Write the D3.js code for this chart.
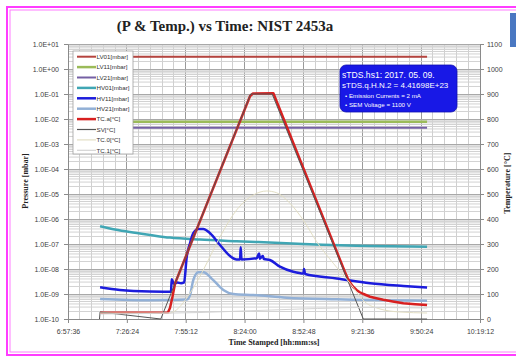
<!DOCTYPE html>
<html>
<head>
<meta charset="utf-8">
<script src="https://cdn.jsdelivr.net/npm/d3@7"></script>
<style>
  body { margin: 0; background: #fff; }
  svg { display: block; }
  .tick text { font-family: "Liberation Sans", Arial, sans-serif; font-size: 7px; fill: #404040; }
  .axisTitle { font-family: "Liberation Serif", "Times New Roman", serif; font-weight: bold; fill: #222; }
</style>
</head>
<body>
<div id="viz"></div>
<script>
// tick labels
const timeTicks = ["6:57:36", "7:26:24", "7:55:12", "8:24:00", "8:52:48", "9:21:36", "9:50:24", "10:19:12"];
const pressureTicks = [1e1, 1e0, 1e-1, 1e-2, 1e-3, 1e-4, 1e-5, 1e-6, 1e-7, 1e-8, 1e-9, 1e-10];
const tempTicks = [0, 100, 200, 300, 400, 500, 600, 700, 800, 900, 1000, 1100];

// pressure series [time, mbar]
const LV01 = [["7:13:18", 3.1], ["9:53:18", 3.1]];
const LV11 = [["7:13:18", 7.8e-3], ["9:53:18", 7.8e-3]];
const LV21 = [["7:13:18", 4.5e-3], ["9:53:18", 4.5e-3]];
const HV01 = [["7:13:18", 5.1e-7], ["7:20:36", 3.8e-7], ["7:27:54", 3.0e-7], ["7:37:42", 2.3e-7],
  ["7:47:30", 1.8e-7], ["8:02:12", 1.5e-7], ["8:20:06", 1.3e-7], ["8:52:42", 1.0e-7],
  ["9:25:24", 8.3e-8], ["9:53:18", 7.8e-8]];
const HV11 = [["7:13:18", 1.85e-9], ["7:23:00", 1.45e-9], ["7:37:42", 1.26e-9], ["7:48:00", 1.24e-9],
  ["7:48:20", 3.9e-9], ["7:49:30", 2.5e-9], ["7:51:00", 2.9e-9], ["7:52:54", 2.7e-9],
  ["7:54:24", 2.9e-9], ["7:55:42", 3.1e-8], ["7:57:18", 1.07e-7], ["7:58:54", 2.7e-7],
  ["8:01:24", 4.0e-7], ["8:03:48", 4.0e-7], ["8:07:06", 2.7e-7], ["8:12:00", 9.1e-8],
  ["8:16:54", 3.3e-8], ["8:20:06", 2.4e-8], ["8:21:48", 2.4e-8], ["8:22:06", 7.4e-8],
  ["8:22:30", 2.4e-8], ["8:29:54", 2.7e-8], ["8:31:06", 4.2e-8], ["8:31:30", 2.6e-8],
  ["8:32:54", 3.3e-8], ["8:33:30", 2.5e-8], ["8:36:24", 2.3e-8], ["8:41:18", 1.24e-8],
  ["8:47:48", 7.8e-9], ["8:52:48", 6.6e-9], ["8:53:06", 1.0e-8], ["8:53:36", 6.3e-9],
  ["9:09:06", 4.2e-9], ["9:25:24", 2.7e-9], ["9:41:42", 2.1e-9], ["9:53:18", 1.82e-9]];
const HV21 = [["7:13:18", 6.3e-10], ["7:37:42", 5.6e-10], ["7:55:42", 6.0e-10], ["7:57:18", 9.1e-10],
  ["7:58:54", 3.6e-9], ["8:01:24", 7.4e-9], ["8:03:48", 7.4e-9], ["8:08:42", 3.6e-9],
  ["8:13:36", 1.45e-9], ["8:18:30", 1.0e-9], ["8:28:18", 9.1e-10], ["8:44:36", 7.1e-10],
  ["9:09:06", 6.1e-10], ["9:53:18", 5.4e-10]];

// temperature series [time, degC]
const TCa = [["7:13:18", 25], ["7:46:30", 26], ["7:47:30", 44], ["7:48:42", 88], ["7:50:00", 143],
  ["8:26:42", 892], ["8:28:06", 902], ["8:38:06", 903], ["9:13:06", 188], ["9:14:18", 166],
  ["9:15:30", 147], ["9:17:00", 130], ["9:18:48", 116], ["9:20:12", 108], ["9:21:54", 101],
  ["9:25:24", 89], ["9:28:30", 83], ["9:31:54", 77], ["9:36:30", 70], ["9:41:42", 63],
  ["9:47:30", 59], ["9:53:18", 56]];
const SV = [["7:13:00", 0], ["7:13:18", 28], ["7:43:00", 0], ["8:27:00", 900], ["8:37:30", 900],
  ["9:22:06", 0], ["9:53:18", 0]];
const TC0 = [["7:13:18", 24], ["7:47:30", 24], ["7:48:30", 26], ["7:57:18", 103], ["8:03:48", 196],
  ["8:12:00", 329], ["8:20:06", 436], ["8:28:18", 496], ["8:34:48", 512], ["8:39:42", 505],
  ["8:46:12", 463], ["8:52:42", 396], ["8:59:18", 309], ["9:07:24", 223], ["9:15:36", 143],
  ["9:22:54", 68], ["9:30:18", 40], ["9:40:00", 28], ["9:53:18", 24]];
const TC1 = [["7:13:18", 20], ["8:02:12", 26], ["8:51:06", 40], ["9:25:24", 46], ["9:53:18", 44]];

const series = [
  { name: "LV01[mbar]", data: LV01, axis: "p", color: "#b5443f", w: 2 },
  { name: "LV11[mbar]", data: LV11, axis: "p", color: "#9bbb59", w: 2.5 },
  { name: "LV21[mbar]", data: LV21, axis: "p", color: "#7560a4", w: 2 },
  { name: "HV01[mbar]", data: HV01, axis: "p", color: "#40a6b4", w: 2.5 },
  { name: "HV11[mbar]", data: HV11, axis: "p", color: "#1c1cdc", w: 2.5 },
  { name: "HV21[mbar]", data: HV21, axis: "p", color: "#92b0d6", w: 2.5 },
  { name: "TC.a[°C]", data: TCa, axis: "t", color: "#d82020", w: 2.5, linear: true },
  { name: "SV[°C]", data: SV, axis: "t", color: "#555555", w: 1, linear: true },
  { name: "TC.0[°C]", data: TC0, axis: "t", color: "#e2dec4", w: 1 },
  { name: "TC.1[°C]", data: TC1, axis: "t", color: "#d4d4d4", w: 1 },
];

const width = 516, height = 356;
const parse = d3.timeParse("%H:%M:%S");

const svg = d3.select("#viz").append("svg")
  .attr("width", width).attr("height", height);

// magenta frame
svg.append("rect").attr("x", 7).attr("y", 7).attr("width", 530).attr("height", 348)
  .attr("fill", "none").attr("stroke", "#ff3cff").attr("stroke-width", 2);
svg.append("rect").attr("x", 10).attr("y", 10).attr("width", 530).attr("height", 342)
  .attr("fill", "none").attr("stroke", "#ff7cff").attr("stroke-width", 1);
// cut-off blue element at top right
svg.append("rect").attr("x", 510).attr("y", 13).attr("width", 10).attr("height", 34)
  .attr("fill", "#4a78c2");

const x = d3.scaleTime()
  .domain([parse(timeTicks[0]), parse(timeTicks[timeTicks.length - 1])])
  .range([68, 480]);
const yP = d3.scaleLog().domain([1e-10, 10]).range([319, 44]);
const yT = d3.scaleLinear().domain([0, 1100]).range([319, 44]);

// grid
const grid = svg.append("g");
const [x0, x1] = x.domain().map(d => +d);
const minorStep = (x1 - x0) / 35;
d3.range(0, 36).forEach(i => {
  const gx = x(new Date(x0 + i * minorStep));
  const major = i % 5 === 0;
  grid.append("line")
    .attr("x1", gx).attr("x2", gx).attr("y1", 44).attr("y2", 319)
    .attr("stroke", major ? "#9a9a9a" : "#cfcfcf").attr("stroke-width", 1)
    .attr("shape-rendering", "crispEdges");
});
pressureTicks.slice(1).forEach(p => {
  d3.range(2, 10).forEach(k => {
    grid.append("line")
      .attr("x1", 68).attr("x2", 480).attr("y1", yP(p * k)).attr("y2", yP(p * k))
      .attr("stroke", "#d2d2d2").attr("stroke-width", 1);
  });
});
pressureTicks.forEach(p => {
  grid.append("line")
    .attr("x1", 68).attr("x2", 480).attr("y1", yP(p)).attr("y2", yP(p))
    .attr("stroke", "#a8a8a8").attr("stroke-width", 1)
    .attr("shape-rendering", "crispEdges");
});

// axes
const fmtE = d => {
  const e = Math.round(Math.log10(d));
  return "1.0E" + (e < 0 ? "-" : "+") + String(Math.abs(e)).padStart(2, "0");
};
const axisStyle = g => {
  g.select(".domain").attr("stroke", "#8a8a8a");
  g.selectAll(".tick line").attr("stroke", "#8a8a8a");
};
svg.append("g").attr("transform", "translate(68,0)")
  .call(d3.axisLeft(yP).tickValues(pressureTicks).tickFormat(fmtE).tickSize(4).tickPadding(5).tickSizeOuter(0))
  .call(axisStyle);
svg.append("g").attr("transform", "translate(480,0)")
  .call(d3.axisRight(yT).tickValues(tempTicks).tickFormat(d3.format("d")).tickSize(4).tickPadding(3).tickSizeOuter(0))
  .call(axisStyle);
svg.append("g").attr("transform", "translate(0,319)")
  .call(d3.axisBottom(x).tickValues(timeTicks.map(parse)).tickFormat(d3.timeFormat("%-H:%M:%S"))
    .tickSize(4).tickPadding(6).tickSizeOuter(0))
  .call(axisStyle);

// series
const plot = svg.append("g");
series.forEach(s => {
  const y = s.axis === "p" ? yP : yT;
  const line = d3.line()
    .x(d => x(parse(d[0])))
    .y(d => y(d[1]))
    .curve(s.linear ? d3.curveLinear : d3.curveMonotoneX);
  plot.append("path")
    .datum(s.data)
    .attr("d", line)
    .attr("fill", "none")
    .attr("stroke", s.color)
    .attr("stroke-width", s.w)
    .attr("stroke-linejoin", "round");
});

// legend
const legend = svg.append("g").attr("transform", "translate(73,51)");
legend.append("rect").attr("width", 60).attr("height", 103)
  .attr("fill", "#fff").attr("stroke", "#a0a0a0").attr("stroke-width", 0.8);
series.forEach((s, i) => {
  const ly = 5.7 + i * 10.4;
  legend.append("line").attr("x1", 4).attr("x2", 23).attr("y1", ly).attr("y2", ly)
    .attr("stroke", s.color).attr("stroke-width", Math.max(s.w, 1.2));
  legend.append("text").attr("x", 23.5).attr("y", ly + 2.2)
    .attr("font-family", "Liberation Sans, Arial, sans-serif").attr("font-size", 6.2)
    .attr("fill", "#333").text(s.name);
});

// info box
const info = svg.append("g").attr("transform", "translate(340,65)");
info.append("rect").attr("width", 117).attr("height", 47).attr("rx", 6)
  .attr("fill", "#1818e6").attr("stroke", "#1010b0").attr("stroke-width", 0.8);
const infoText = [
  { t: "sTDS.hs1: 2017. 05. 09.", x: 2, y: 13, s: 8.6 },
  { t: "sTDS.q.H.N.2 = 4.41698E+23", x: 2, y: 23, s: 8 },
  { t: "• Emission Currents = 2 mA", x: 5, y: 33, s: 6.2 },
  { t: "• SEM Voltage = 1100 V", x: 5, y: 42, s: 6.2 },
];
infoText.forEach(r => {
  info.append("text").attr("x", r.x).attr("y", r.y)
    .attr("font-family", "Liberation Sans, Arial, sans-serif").attr("font-size", r.s)
    .attr("fill", "#fff").text(r.t);
});

// titles
svg.append("text").attr("class", "axisTitle").attr("x", 225).attr("y", 31)
  .attr("text-anchor", "middle").attr("font-size", 15).text("(P & Temp.) vs Time: NIST 2453a");
svg.append("text").attr("class", "axisTitle").attr("x", 274).attr("y", 345)
  .attr("text-anchor", "middle").attr("font-size", 8).text("Time Stamped [hh:mm:ss]");
svg.append("text").attr("class", "axisTitle")
  .attr("transform", "translate(28,181) rotate(-90)")
  .attr("text-anchor", "middle").attr("font-size", 8).text("Pressure [mbar]");
svg.append("text").attr("class", "axisTitle")
  .attr("transform", "translate(510,183) rotate(-90)")
  .attr("text-anchor", "middle").attr("font-size", 8).text("Temperature [°C]");
</script>
</body>
</html>
